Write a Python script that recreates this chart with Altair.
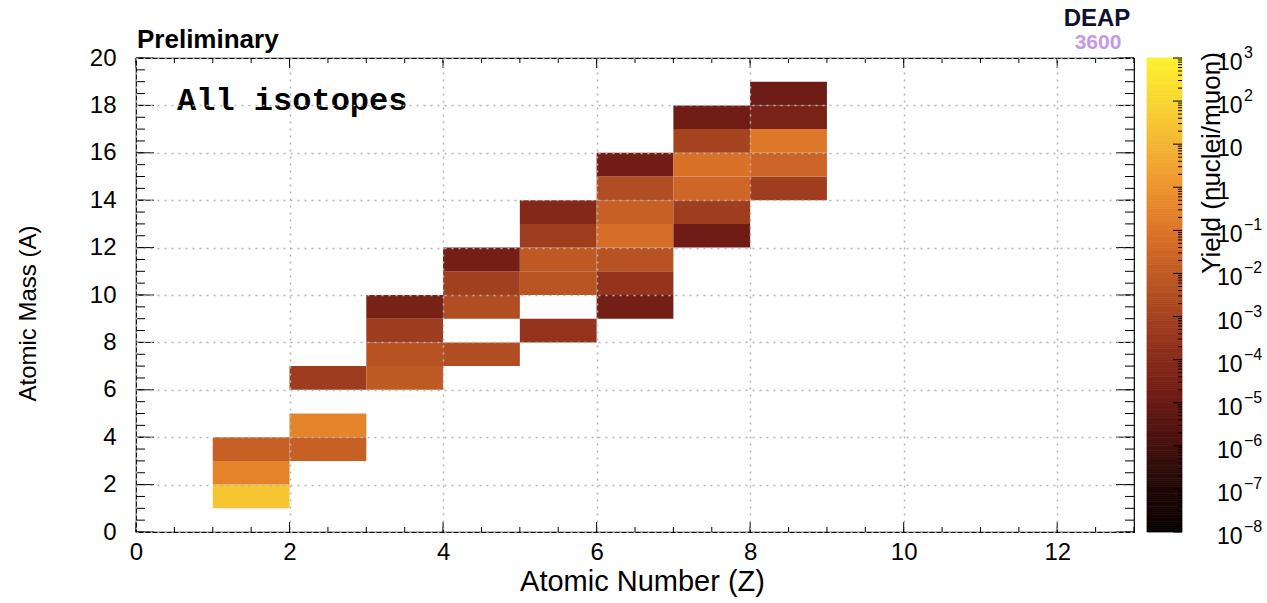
import altair as alt
import pandas as pd

# ---------------- data ----------------
Z_VALUES = [1, 1, 1,
            2, 2, 2,
            3, 3, 3, 3,
            4, 4, 4, 4,
            5, 5, 5, 5, 5,
            6, 6, 6, 6, 6, 6, 6,
            7, 7, 7, 7, 7, 7,
            8, 8, 8, 8, 8]
A_VALUES = [1, 2, 3,
            3, 4, 6,
            6, 7, 8, 9,
            7, 9, 10, 11,
            8, 10, 11, 12, 13,
            9, 10, 11, 12, 13, 14, 15,
            12, 13, 14, 15, 16, 17,
            14, 15, 16, 17, 18]
YIELDS = [30, 0.3, 0.017,
          0.017, 0.3, 5.6e-4,
          0.01, 0.0047, 5.6e-4, 3e-5,
          0.003, 0.003, 8e-4, 2e-5,
          2.5e-4, 0.0056, 0.01, 6.8e-4, 7.5e-5,
          2e-5, 2.6e-4, 0.0047, 0.06, 0.017, 0.003, 1.8e-5,
          1.4e-5, 6.8e-4, 0.029, 0.07, 1.2e-3, 1.6e-5,
          6.8e-4, 0.024, 0.13, 3.2e-5, 1.4e-5]

X_LABEL_VALUES = [0, 2, 4, 6, 8, 10, 12]
Y_LABEL_VALUES = [0, 2, 4, 6, 8, 10, 12, 14, 16, 18, 20]
X_MINOR_TICKS = [i / 2 for i in range(27)]
Y_MINOR_TICKS = [i / 2 for i in range(41)]

CBAR_TICKS = [1e-8, 1e-7, 1e-6, 1e-5, 1e-4, 1e-3, 1e-2, 1e-1, 1, 10, 100, 1000]
CBAR_BASES = ["10", "10", "10", "10", "10", "10", "10", "10", "1", "10", "10", "10"]
CBAR_EXPS = ["−8", "−7", "−6", "−5", "−4", "−3", "−2", "−1", "", "", "2", "3"]
CBAR_MINOR = [m * d for d in CBAR_TICKS[:-1] for m in range(2, 10)]
CBAR_COLORS = ["#050202", "#200806", "#44100c", "#6a1a14", "#882a1a", "#a44220",
               "#c05a24", "#dc7428", "#ee9430", "#f3b634", "#f8d632", "#fdf22e"]
CBAR_BANDS = 220  # number of slices used to paint the colour bar

W, H = 998, 474
FONT = "Liberation Sans"
CB_X, CB_W = 1011, 35

cells = pd.DataFrame({"z": Z_VALUES, "a": A_VALUES, "y": YIELDS})
cells["z1"] = cells["z"] + 1
cells["a1"] = cells["a"] + 1

xscale = alt.Scale(domain=[0, 13], nice=False, zero=False)
yscale = alt.Scale(domain=[0, 20], nice=False, zero=False)
color_scale = alt.Scale(type="log", domain=CBAR_TICKS, range=CBAR_COLORS)

common_axis = dict(
    titleFont=FONT, titleFontWeight="normal", titleColor="black",
    titleBaseline="middle", labelFont=FONT, labelFontSize=24, labelColor="black",
    ticks=False, domain=False, grid=True, gridColor="#b4b4b4",
    gridDash=[2, 5], gridWidth=1.5, zindex=1, labelFlush=False)
xaxis = alt.Axis(values=X_LABEL_VALUES, title="Atomic Number (Z)", titleFontSize=29,
                 titleX=506, titleY=49, labelPadding=8, **common_axis)
yaxis = alt.Axis(values=Y_LABEL_VALUES, title="Atomic Mass (A)", titleFontSize=24,
                 titleX=-108, titleY=255, titleAngle=270, labelPadding=20, **common_axis)

heat = alt.Chart(cells).mark_rect(strokeWidth=0).encode(
    x=alt.X("z:Q", scale=xscale, axis=xaxis),
    x2="z1:Q",
    y=alt.Y("a:Q", scale=yscale, axis=yaxis),
    y2="a1:Q",
    color=alt.Color("y:Q", scale=color_scale, legend=None),
)

xminor = pd.DataFrame({"v": X_MINOR_TICKS})
xmajor = pd.DataFrame({"v": X_LABEL_VALUES})
yminor = pd.DataFrame({"v": Y_MINOR_TICKS})
ymajor = pd.DataFrame({"v": Y_LABEL_VALUES})


def xticks(df, length):
    bottom = alt.Chart(df).mark_rule(color="black", strokeWidth=1).encode(
        x=alt.X("v:Q", scale=xscale, axis=xaxis), y=alt.value(H), y2=alt.value(H - length))
    top = alt.Chart(df).mark_rule(color="black", strokeWidth=1).encode(
        x=alt.X("v:Q", scale=xscale, axis=xaxis), y=alt.value(0), y2=alt.value(length))
    return [bottom, top]


def yticks(df, length):
    left = alt.Chart(df).mark_rule(color="black", strokeWidth=1).encode(
        y=alt.Y("v:Q", scale=yscale, axis=yaxis), x=alt.value(0), x2=alt.value(length))
    right = alt.Chart(df).mark_rule(color="black", strokeWidth=1).encode(
        y=alt.Y("v:Q", scale=yscale, axis=yaxis), x=alt.value(W), x2=alt.value(W - length))
    return [left, right]


def label(text, x, y, size, weight="normal", font=FONT, color="black", align="left", angle=0):
    return alt.Chart(pd.DataFrame({"t": [text]})).mark_text(
        font=font, fontSize=size, fontWeight=weight, color=color, align=align,
        baseline="alphabetic", angle=angle).encode(
        text="t:N", x=alt.value(x), y=alt.value(y))


layers = [heat]
layers += xticks(xminor, 5) + xticks(xmajor, 10)
layers += yticks(yminor, 9) + yticks(ymajor, 18)
layers += [
    label("Preliminary", 1, -10, 26, weight="bold"),
    label("All isotopes", 41, 52, 32, weight="bold", font="Liberation Mono"),
    label("DEAP", 961, -32, 24, weight="bold", color="#101030", align="center"),
    label("3600", 962, -9, 21, weight="bold", color="#c49ae6", align="center"),
    label("Yield (nuclei/muon)", 1084, 105, 26, align="center", angle=270),
]
main = alt.layer(*layers)

# ---------------- colour bar (painted through the same colour scale) ----------------
lo_exp, hi_exp = -8, 3
edges = [10 ** (lo_exp + (hi_exp - lo_exp) * i / CBAR_BANDS) for i in range(CBAR_BANDS + 1)]
bands = pd.DataFrame({"lo": edges[:-1], "hi": edges[1:]})
bands["c"] = (bands["lo"] * bands["hi"]) ** 0.5

cscale = alt.Scale(type="log", domain=[1e-8, 1e3], nice=False)
cbar_fill = alt.Chart(bands).mark_rect(strokeWidth=0.8).encode(
    y=alt.Y("lo:Q", scale=cscale, axis=None), y2="hi:Q",
    x=alt.value(CB_X), x2=alt.value(CB_X + CB_W),
    color=alt.Color("c:Q", scale=color_scale, legend=None),
    stroke=alt.Stroke("c:Q", scale=color_scale, legend=None))

cbar = pd.DataFrame({"v": CBAR_TICKS, "base": CBAR_BASES, "exp": CBAR_EXPS})
cminor = pd.DataFrame({"v": CBAR_MINOR})
cbar_major = alt.Chart(cbar).mark_rule(color="black", strokeWidth=1).encode(
    y=alt.Y("v:Q", scale=cscale, axis=None),
    x=alt.value(CB_X + CB_W), x2=alt.value(CB_X + CB_W - 9))
cbar_minor = alt.Chart(cminor).mark_rule(color="black", strokeWidth=1).encode(
    y=alt.Y("v:Q", scale=cscale, axis=None),
    x=alt.value(CB_X + CB_W), x2=alt.value(CB_X + CB_W - 4))
cbar_base = alt.Chart(cbar).mark_text(
    font=FONT, fontSize=23, align="left", baseline="middle", dy=5, color="black").encode(
    y=alt.Y("v:Q", scale=cscale, axis=None), x=alt.value(1081), text="base:N")
cbar_exp = alt.Chart(cbar).mark_text(
    font=FONT, fontSize=16, align="left", baseline="middle", dx=27, dy=-5, color="black").encode(
    y=alt.Y("v:Q", scale=cscale, axis=None), x=alt.value(1081), text="exp:N")

chart = alt.layer(main, cbar_fill, cbar_major, cbar_minor, cbar_base, cbar_exp).resolve_scale(
    y="independent").properties(
    width=W, height=H,
    autosize=alt.AutoSizeParams(type="none"),
    padding={"left": 136, "top": 58, "right": 133, "bottom": 71},
    background="white",
).configure_view(stroke="black", strokeWidth=1.2)

chart.save("out.html", embed_options={"renderer": "svg", "actions": False})
